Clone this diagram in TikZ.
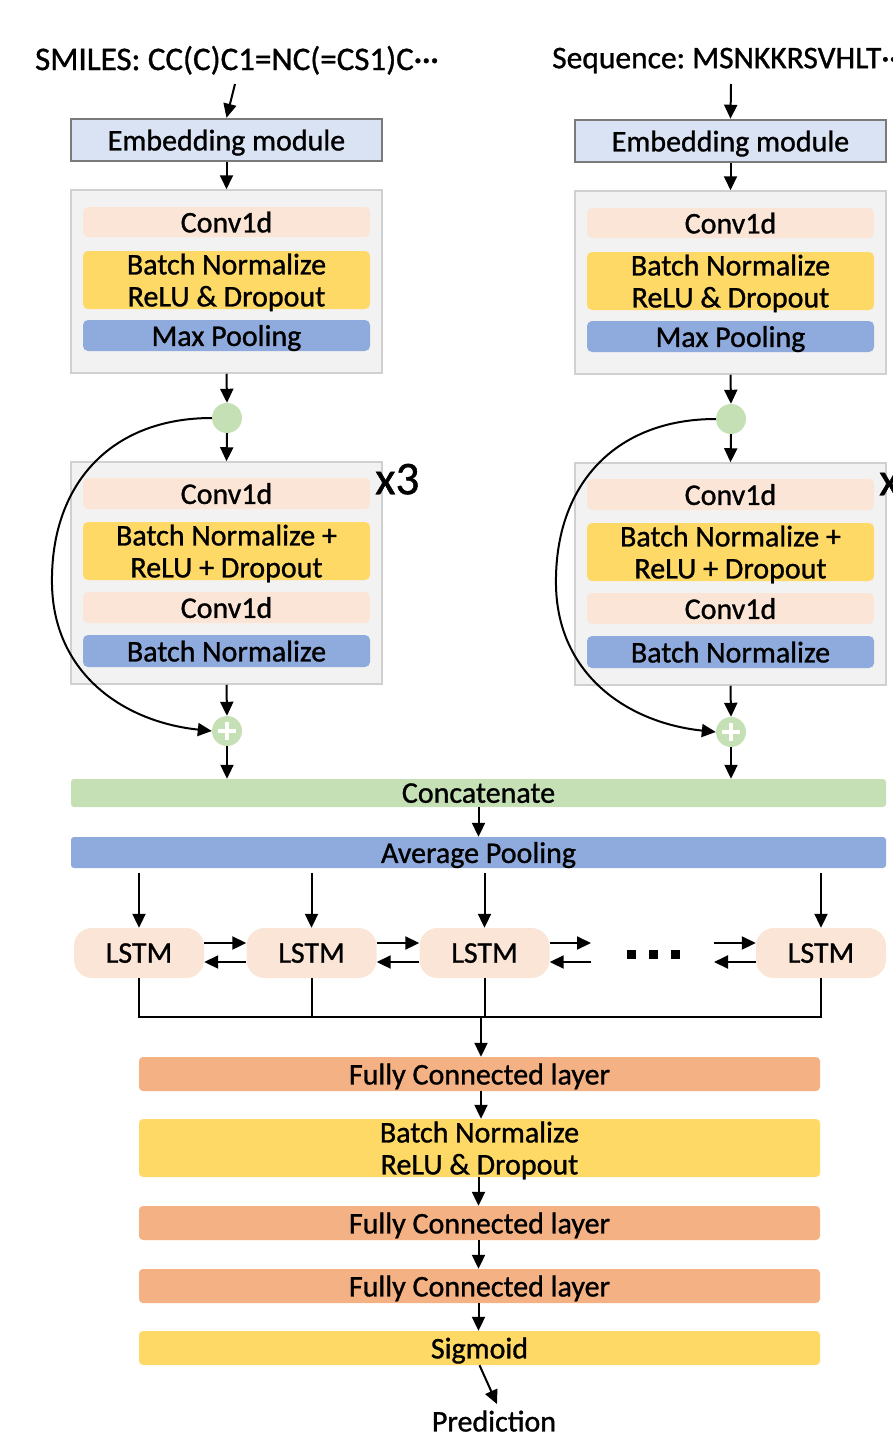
\documentclass[tikz,border=0pt]{standalone}
\usepackage{fontspec}
\setmainfont{Carlito}[FakeBold=1.0]
\AtBeginDocument{\frenchspacing}
\usetikzlibrary{arrows.meta,calc}
\definecolor{embfill}{HTML}{DAE3F3}
\definecolor{embline}{HTML}{7A7A7A}
\definecolor{contfill}{HTML}{F2F2F2}
\definecolor{contline}{HTML}{D0D0D0}
\definecolor{peach}{HTML}{FBE5D6}
\definecolor{yel}{HTML}{FFD966}
\definecolor{blu}{HTML}{8FAADC}
\definecolor{grn}{HTML}{C5E0B4}
\definecolor{org}{HTML}{F4B183}
\begin{document}
\begin{tikzpicture}[x=1pt,y=-1pt,
  font=\fontsize{30}{32}\selectfont,
  arr/.style={line width=2pt,-{Triangle[length=14pt,width=13pt]}},
  ln/.style={line width=2pt},
  blk/.style={rounded corners=5pt, inner sep=0pt, align=center, minimum width=287pt, text=black, text depth=0pt},
  emb/.style={draw=embline, line width=2.5pt, fill=embfill, minimum width=311pt, minimum height=42pt, inner sep=0pt, text depth=0pt},
  cont/.style={draw=contline, line width=1.5pt, fill=contfill, minimum width=311pt, inner sep=0pt},
  junc/.style={circle, fill=grn, minimum size=30pt, inner sep=0pt},
  lstm/.style={rounded corners=18pt, fill=peach, minimum width=130pt, minimum height=50pt, inner sep=0pt, text depth=-1.5pt},
  wide/.style={rounded corners=4pt, inner sep=0pt, align=center, minimum width=681pt, text depth=0pt},
  bar/.style={rounded corners=3pt, inner sep=0pt, minimum width=815pt, text depth=0pt},
  dotsq/.style={fill=black, minimum size=9pt, inner sep=0pt},
  plusmark/.style={path picture={\draw[white,line width=3.5pt] ([xshift=-9pt]path picture bounding box.center) -- ([xshift=9pt]path picture bounding box.center); \draw[white,line width=3.5pt] ([yshift=-9pt]path picture bounding box.center) -- ([yshift=9pt]path picture bounding box.center);}}
]
\useasboundingbox (0,0) rectangle (893,1440);

% inputs
\node[font=\fontsize{33}{35}\selectfont, text depth=0pt] (Lsrc) at (237,58) {SMILES: CC(C)C1=NC(=CS1)C\textperiodcentered\textperiodcentered\textperiodcentered};
\node[font=\fontsize{31.5}{34}\selectfont, anchor=west, inner sep=0pt, text depth=0pt] (Rsrc) at (552,58) {Sequence: MSNKKRSVHLT\textperiodcentered\textperiodcentered\textperiodcentered};
\coordinate (Lin) at (235,84);
\coordinate (Rin) at (731,84);

\foreach \p/\dx/\dy in {L/0/0,R/504/1}{
 \begin{scope}[shift={(\dx,\dy)}]
  \node[emb] (\p emb) at (226.5,140) {Embedding module};
  \node[cont, minimum height=183pt] (\p contA) at (226.5,281.5) {};
  \node[blk, fill=peach, minimum height=30pt] (\p cA) at (226.5,222) {Conv1d};
  \node[blk, fill=yel, minimum height=58pt] (\p bnA) at (226.5,280) {Batch Normalize\\ReLU \& Dropout};
  \node[blk, fill=blu, minimum height=31pt] (\p mp) at (226.5,335.5) {Max Pooling};
  \node[junc] (\p circ) at (227,418) {};
  \node[cont, minimum height=222pt] (\p contB) at (226.5,573) {};
  \node[blk, fill=peach, minimum height=31pt] (\p cB) at (226.5,493.5) {Conv1d};
  \node[blk, fill=yel, minimum height=58pt] (\p bnB) at (226.5,551) {Batch Normalize +\\ReLU + Dropout};
  \node[blk, fill=peach, minimum height=31pt] (\p cC) at (226.5,607.5) {Conv1d};
  \node[blk, fill=blu, minimum height=32pt] (\p bnC) at (226.5,651) {Batch Normalize};
  \node[junc, plusmark] (\p plus) at (227,731) {};
  \node[font=\fontsize{47}{49}\selectfont, anchor=west, inner sep=0pt, text depth=0pt] (\p x) at (375,479) {x3};
  \draw[arr] (\p emb.south) -- (\p contA.north);
  \draw[arr] (\p contA.south) -- (\p circ.north);
  \draw[arr] (\p circ.south) -- (\p contB.north);
  \draw[arr] (\p contB.south) -- (\p plus.north);
  \draw[arr] (\p circ.west) .. controls (110,418) and (50,485) .. (52,585)
     .. controls (54,675) and (125,722) .. (\p plus.west);
 \end{scope}
}
\draw[arr] (Lin) -- (Lemb.north);
\draw[arr] (Rin) -- (Remb.north);

% merge
\node[bar, fill=grn, minimum height=28pt] (conc) at (478.5,793) {Concatenate};
\node[bar, fill=blu, minimum height=31pt] (avg) at (478.5,852.5) {Average Pooling};
\draw[arr] (Lplus.south) -- (Lplus.south|-conc.north);
\draw[arr] (Rplus.south) -- (Rplus.south|-conc.north);
\draw[arr] (conc.south) -- (avg.north);

% LSTM row
\node[lstm] (l1) at (139,953) {LSTM};
\node[lstm] (l2) at (311.5,953) {LSTM};
\node[lstm] (l3) at (484.5,953) {LSTM};
\node[lstm] (l4) at (821,953) {LSTM};
\foreach \n in {l1,l2,l3,l4}{
  \coordinate (\n top) at ($(\n.north)+(0,-55)$);
  \draw[arr] (\n top) -- (\n.north);
}
\coordinate (dA) at (591,953);
\coordinate (dB) at (714,953);
\node[dotsq] (d1) at (631.5,954.5) {};
\node[dotsq] (d2) at (653.5,954.5) {};
\node[dotsq] (d3) at (675.5,954.5) {};
\foreach \a/\b in {l1/l2,l2/l3}{
  \draw[arr] ([yshift=10pt]\a.east) -- ([yshift=10pt]\b.west);
  \draw[arr] ([yshift=-9pt]\b.west) -- ([yshift=-9pt]\a.east);
}
\draw[arr] ([yshift=10pt]l3.east) -- ([yshift=10pt]dA);
\draw[arr] ([yshift=-9pt]dA) -- ([yshift=-9pt]l3.east);
\draw[arr] ([yshift=10pt]dB) -- ([yshift=10pt]l4.west);
\draw[arr] ([yshift=-9pt]l4.west) -- ([yshift=-9pt]dB);

\coordinate (bus) at (481,1017);
\draw[ln] (l1.south) -- (l1.south|-bus) -- (l4.south|-bus) -- (l4.south);
\draw[ln] (l2.south) -- (l2.south|-bus);
\draw[ln] (l3.south) -- (l3.south|-bus);

% head
\node[wide, fill=org, minimum height=34pt] (fc1) at (479.5,1074) {Fully Connected layer};
\node[wide, fill=yel, minimum height=58pt] (bn3) at (479.5,1148) {Batch Normalize\\ReLU \& Dropout};
\node[wide, fill=org, minimum height=34pt] (fc2) at (479.5,1223) {Fully Connected layer};
\node[wide, fill=org, minimum height=34pt] (fc3) at (479.5,1286) {Fully Connected layer};
\node[wide, fill=yel, minimum height=34pt] (sig) at (479.5,1348) {Sigmoid};
\node[text depth=0pt] (pred) at (494,1421) {Prediction};
\draw[arr] (bus) -- (bus|-fc1.north);
\draw[arr] (fc1.south-|bus) -- (bn3.north-|bus);
\draw[arr] ([xshift=-1pt]bn3.south) -- ([xshift=-1pt]fc2.north);
\draw[arr] ([xshift=-1pt]fc2.south) -- ([xshift=-1pt]fc3.north);
\draw[arr] ([xshift=-1pt]fc3.south) -- ([xshift=-1pt]sig.north);
\draw[arr] (sig.south) -- ($(pred.north)+(3,-3)$);
\end{tikzpicture}
\end{document}
